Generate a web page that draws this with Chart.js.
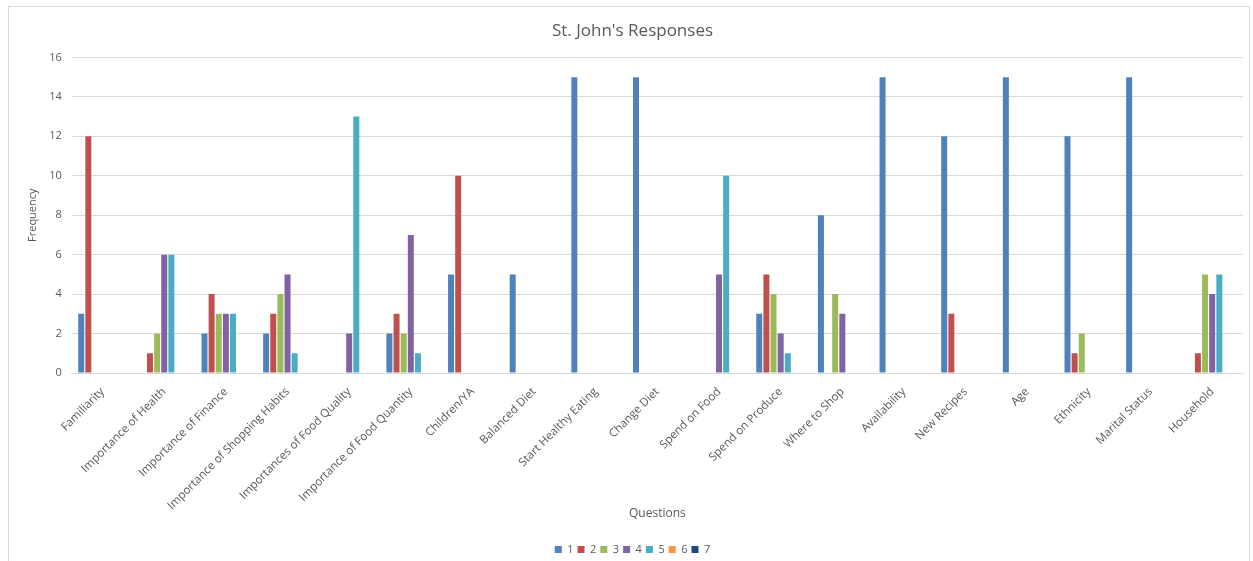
<!DOCTYPE html>
<html><head><meta charset="utf-8">
<script src="https://cdn.jsdelivr.net/npm/chart.js@4/dist/chart.umd.min.js"></script>
<style>
html,body{margin:0;padding:0;background:#fff;width:1253px;height:561px;overflow:hidden}
#wrap{position:absolute;left:8px;top:6px;width:1240px;height:558px;border:1px solid #d9d9d9;background:#fff}
canvas{display:block}
</style></head><body>
<div id="wrap"><canvas id="c" width="1240" height="558"></canvas></div>
<script>
const categories = ["Familiarity","Importance of Health","Importance of Finance","Importance of Shopping Habits","Importances of Food Quality","Importance of Food Quantity","Children/YA","Balanced Diet","Start Healthy Eating","Change Diet","Spend on Food","Spend on Produce","Where to Shop","Availability","New Recipes","Age","Ethnicity","Marital Status","Household"];
const s1 = [3,null,2,2,null,2,5,5,15,15,null,3,8,15,12,15,12,15,null];
const s2 = [12,1,4,3,null,3,10,null,null,null,null,5,null,null,3,null,1,null,1];
const s3 = [null,2,3,4,null,2,null,null,null,null,null,4,4,null,null,null,2,null,5];
const s4 = [null,6,3,5,2,7,null,null,null,null,5,2,3,null,null,null,null,null,4];
const s5 = [null,6,3,1,13,1,null,null,null,null,10,1,null,null,null,null,null,null,5];
const s6 = [null,null,null,null,null,null,null,null,null,null,null,null,null,null,null,null,null,null,null];
const s7 = [null,null,null,null,null,null,null,null,null,null,null,null,null,null,null,null,null,null,null];
const seriesNames = ["1","2","3","4","5","6","7"];
const yTicks = [0,2,4,6,8,10,12,14,16];

const colors = ["#4F81BD","#C0504D","#9BBB59","#8064A2","#4BACC6","#F79646","#1F497D"];
const allSeries = [s1,s2,s3,s4,s5,s6,s7];
const txt = "#595959";
const fam = "'Open Sans', 'Liberation Sans', sans-serif";
new Chart(document.getElementById('c'), {
  type: 'bar',
  data: {
    labels: categories,
    datasets: allSeries.map((d,i)=>({label: seriesNames[i], data: d, backgroundColor: colors[i], borderWidth: 0, barPercentage: 0.84, categoryPercentage: 0.81}))
  },
  options: {
    responsive: false, animation: false,
    layout: {padding: {left: 13, right: 6, top: 0, bottom: 0}},
    plugins: {
      title: {display: true, text: "St. John's Responses", color: txt, font: {family: fam, size: 17, weight: 'normal'}, padding: {top: 14, bottom: 16}},
      legend: {position: 'bottom', labels: {color: txt, boxWidth: 7, boxHeight: 7, font: {family: fam, size: 11}, padding: 4}},
      tooltip: {enabled: false}
    },
    scales: {
      x: {
        afterFit: (s) => { s.height = 167; },
        grid: {display: false, drawTicks: false},
        border: {color: '#d9d9d9'},
        ticks: {color: txt, font: {family: fam, size: 11.5}, minRotation: 45, maxRotation: 45, autoSkip: false, padding: 12},
        title: {display: true, text: 'Questions', color: txt, font: {family: fam, size: 12}, padding: {top: 0, bottom: 19}}
      },
      y: {
        min: 0, max: 16,
        afterBuildTicks: (ax) => { ax.ticks = yTicks.map(v=>({value: v})); },
        grid: {color: '#d9d9d9', drawTicks: false},
        border: {display: false},
        ticks: {color: txt, font: {family: fam, size: 11}, padding: 10},
        title: {display: true, text: 'Frequency', color: txt, font: {family: fam, size: 11}, padding: {top: 4, bottom: 0}}
      }
    }
  }
});
</script>
</body></html>
